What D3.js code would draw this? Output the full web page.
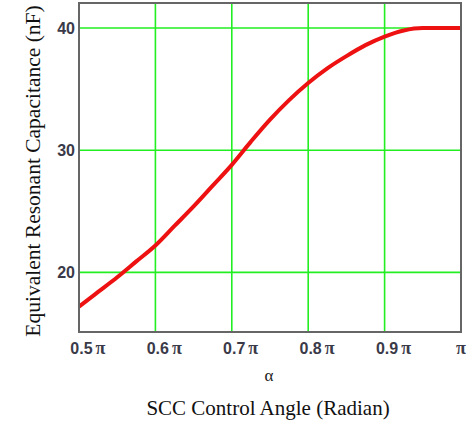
<!DOCTYPE html>
<html><head><meta charset="utf-8">
<script src="https://cdn.jsdelivr.net/npm/d3@7"></script>
<style>
body{margin:0;background:#fff;}
text{font-family:"Liberation Serif","Times New Roman",serif;}
.tk{font-family:"Liberation Sans",Arial,sans-serif;font-weight:bold;}
</style></head>
<body><svg id="c" width="469" height="427"></svg>
<script>
// alpha in units of pi
const alphaVals = [0.50,0.525,0.55,0.575,0.60,0.625,0.65,0.675,0.70,0.725,0.75,0.775,0.80,0.825,0.85,0.875,0.90,0.925,0.95,0.975,1.00];
const capVals   = [17.2,18.4,19.6,20.9,22.2,23.8,25.4,27.1,28.8,30.7,32.5,34.1,35.5,36.7,37.7,38.6,39.3,39.8,40.0,40.0,40.0];
const xTicks = [0.5,0.6,0.7,0.8,0.9,1.0];
const xTickNums = ["0.5","0.6","0.7","0.8","0.9",""];
const yTicks = [20,30,40];

const svg = d3.select("#c");
const L=79, R=461, T=3, B=332;
const x = d3.scaleLinear().domain([0.5,1.0]).range([L,R]);
const y = d3.scaleLinear().domain([15.12,42.05]).range([B,T]);

// grid
svg.append("g").selectAll("line").data(xTicks.slice(1,-1)).join("line")
  .attr("x1",d=>x(d)).attr("x2",d=>x(d)).attr("y1",T).attr("y2",B)
  .attr("stroke","#22ee22").attr("stroke-width",1.6);
svg.append("g").selectAll("line").data(yTicks).join("line")
  .attr("y1",d=>y(d)).attr("y2",d=>y(d)).attr("x1",L).attr("x2",R)
  .attr("stroke","#22ee22").attr("stroke-width",1.6);

// curve
svg.append("path").datum(alphaVals.map((a,i)=>[a,capVals[i]]))
  .attr("d",d3.line().x(d=>x(d[0])).y(d=>y(d[1])).curve(d3.curveMonotoneX))
  .attr("fill","none").attr("stroke","#ee1111").attr("stroke-width",4);

// frame
svg.append("rect").attr("x",L).attr("y",T).attr("width",R-L).attr("height",B-T)
  .attr("fill","none").attr("stroke","#666").attr("stroke-width",2);

// x tick labels
const xl = svg.append("g").selectAll("text").data(xTicks).join("text")
  .attr("class","tk")
  .attr("x",(d,i)=>i===xTicks.length-1?x(d)-5:x(d)-8.7)
  .attr("y",354)
  .attr("font-size",16).attr("fill","#3a3a48");
xl.append("tspan").text((d,i)=>xTickNums[i]);
xl.append("tspan").attr("dx",(d,i)=>xTickNums[i]?3:0)
  .attr("style","font-family:'Liberation Serif',serif;font-weight:bold").attr("font-size",18).text("π");

// y tick labels
svg.append("g").selectAll("text").data(yTicks).join("text")
  .attr("class","tk")
  .attr("x",L-4).attr("y",d=>y(d)).attr("dy","0.38em")
  .attr("text-anchor","end").attr("font-size",16).attr("fill","#3a3a48")
  .text(d=>d);

// axis titles
svg.append("text").attr("x",269).attr("y",381).attr("text-anchor","middle")
  .attr("font-size",17).attr("fill","#222").text("α");
svg.append("text").attr("x",268).attr("y",415).attr("text-anchor","middle")
  .attr("font-size",21).attr("fill","#111").text("SCC Control Angle (Radian)");
svg.append("text").attr("transform","translate(40,171) rotate(-90)")
  .attr("text-anchor","middle").attr("font-size",21.5).attr("fill","#111")
  .text("Equivalent Resonant Capacitance (nF)");
</script></body></html>
